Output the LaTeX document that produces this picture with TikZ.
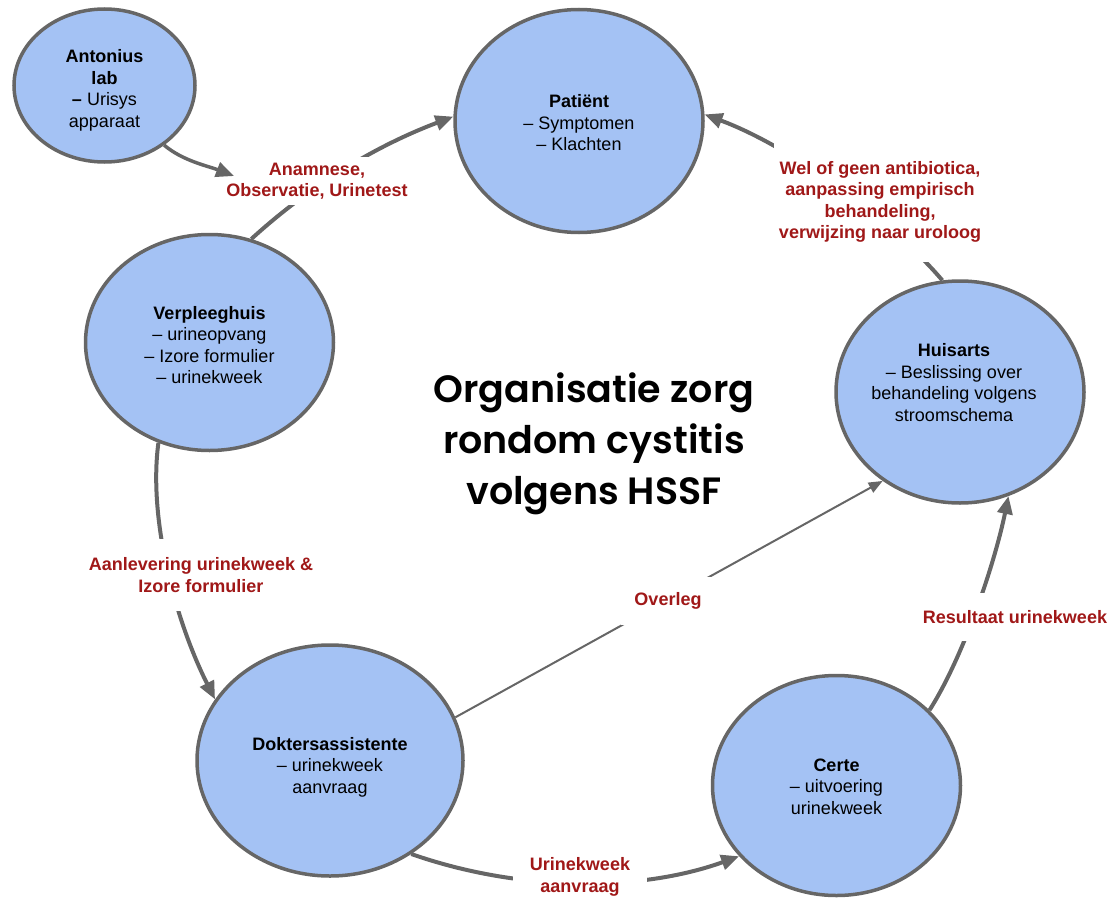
\documentclass[tikz,border=0pt]{standalone}
\usepackage{fontspec}
\setmainfont{Liberation Sans}
\newfontfamily\titlefont{Poppins}[BoldFont={* SemiBold}]
\usetikzlibrary{shapes.geometric,arrows.meta}
\definecolor{placeblue}{HTML}{A4C2F4}
\definecolor{linegray}{HTML}{666666}
\definecolor{labelred}{HTML}{A01818}

\begin{document}
\begin{tikzpicture}[x=1pt,y=-1pt,
  place/.style={ellipse, draw=linegray, line width=3.5pt, fill=placeblue, inner sep=0pt},
  nodetext/.style={align=center, font=\fontsize{18}{21.5}\selectfont, text=black, inner sep=0pt},
  flowlabel/.style={align=center, font=\bfseries\fontsize{18}{21.5}\selectfont, text=labelred, fill=white},
  conn/.style={draw=linegray, line width=4pt, -{Triangle[length=18pt,width=15pt]}},
  thinconn/.style={draw=linegray, line width=2pt, -{Triangle[length=14pt,width=11pt]}},
  titletext/.style={align=center, font=\titlefont\bfseries\fontsize{38}{51}\selectfont, text=black}
]
\useasboundingbox (0,0) rectangle (1111,899);

% places in the care chain
\node[place, minimum width=181pt, minimum height=153pt,
  label={[nodetext, yshift=-5pt]center:{\textbf{Antonius}\\\textbf{lab}\\\textbf{–} Urisys\\apparaat}}]
  (antonius) at (104.5,85.5) {};
\node[place, minimum width=248pt, minimum height=223pt,
  label={[nodetext, yshift=-2pt]center:{\textbf{Patiënt}\\– Symptomen\\– Klachten}}]
  (patient) at (579,121) {};
\node[place, minimum width=248pt, minimum height=216pt,
  label={[nodetext, yshift=-2.5pt]center:{\textbf{Verpleeghuis}\\– urineopvang\\– Izore formulier\\– urinekweek}}]
  (verpleeghuis) at (209.5,342.5) {};
\node[place, minimum width=248pt, minimum height=222pt,
  label={[nodetext, yshift=9.5pt, xshift=-6pt]center:{\textbf{Huisarts}\\– Beslissing over\\behandeling volgens\\stroomschema}}]
  (huisarts) at (960,392) {};
\node[place, minimum width=266pt, minimum height=231pt,
  label={[nodetext, yshift=-6.5pt]center:{\textbf{Doktersassistente}\\– urinekweek\\aanvraag}}]
  (dokter) at (330,760.5) {};
\node[place, minimum width=248pt, minimum height=220pt,
  label={[nodetext, yshift=-1pt]center:{\textbf{Certe}\\– uitvoering\\urinekweek}}]
  (certe) at (836.5,785.5) {};

% title
\node[titletext] (title) at (594,444) {Organisatie zorg\\rondom cystitis\\volgens HSSF};

% connectors
\draw[conn] (verpleeghuis.68) .. controls (305,190) and (370,148) .. (patient.178);
\draw[conn] (huisarts.99) .. controls (900,230) and (800,150) .. (patient.3);
\draw[conn] (verpleeghuis.243) .. controls (148,520) and (176,622) .. (dokter.152);
\draw[conn] (dokter.-49) .. controls (520,892) and (640,892) .. (certe.216);
\draw[thinconn] (dokter.19) -- (huisarts.229);
\draw[conn] (certe.39) .. controls (964,656) and (995,562) .. (huisarts.-65);

% connector labels (white boxes open a gap in the line)
\node[flowlabel, inner xsep=3pt, inner ysep=6pt] (lblanamnese) at (317,181)
  {Anamnese,\\Observatie, Urinetest};
\node[flowlabel, inner xsep=5pt, inner ysep=19pt] (lblbeleid) at (880,202)
  {Wel of geen antibiotica,\\aanpassing empirisch\\behandeling,\\verwijzing naar uroloog};
\node[flowlabel, inner xsep=4pt, inner ysep=19pt] (lblaanlevering) at (201,575)
  {Aanlevering urinekweek \&\\Izore formulier};
\node[flowlabel, inner xsep=13pt, inner ysep=16pt] (lbloverleg) at (668,601) {Overleg};
\node[flowlabel, inner xsep=2pt, inner ysep=17pt] (lblresultaat) at (1015,617) {Resultaat urinekweek};
\node[flowlabel, inner xsep=17pt, inner ysep=1pt] (lblaanvraag) at (580,877) {Urinekweek\\aanvraag};

% lab result feeding into the intake
\coordinate (labtip) at (234,176);
\draw[conn, line width=3.5pt] (antonius.-45) .. controls (183,161) and (208,166) .. (labtip);
\end{tikzpicture}
\end{document}
